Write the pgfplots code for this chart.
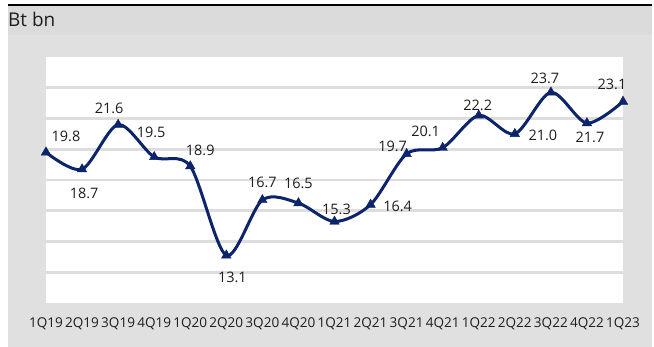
\documentclass[border=0pt]{standalone}
\usepackage{fontspec}
\setmainfont{Open Sans}
\usepackage{pgfplots}
\pgfplotsset{compat=1.18}
\usepackage{pgfplotstable}
\definecolor{navy}{RGB}{12,36,106}
\definecolor{bandgray}{RGB}{219,219,219}
\definecolor{panelgray}{RGB}{224,224,224}
\definecolor{gridgray}{RGB}{221,221,221}
\definecolor{txt}{RGB}{30,30,30}

\pgfplotstableread{
x y lx ly
0 19.8 20 15.5
1 18.7 2 -23.7
2 21.6 -9 16
3 19.5 -3 25
4 18.9 10 16
5 13.1 6 -22
6 16.7 0 17.3
7 16.5 0 20
8 15.3 2 12
9 16.4 27 -2
10 19.7 -14 7
11 20.1 -17 16.5
12 22.2 -1 10
13 21.0 28 -1
14 23.7 -6 14
15 21.7 3 -14
16 23.1 -11 17
}\data

\begin{document}
\begin{tikzpicture}
\useasboundingbox (0bp,0bp) rectangle (654bp,347bp);
\fill[white] (0bp,0bp) rectangle (654bp,347bp);
\fill[panelgray] (8bp,0bp) rectangle (652bp,312bp);
\fill[bandgray] (8bp,312bp) rectangle (652bp,341bp);
\draw[black, line width=2.5bp] (8bp,341.8bp) -- (652bp,341.8bp);
\node[anchor=base west, inner sep=0, text=txt, font=\fontsize{19}{19}\selectfont] at (8bp,320bp) {Bt bn};
\begin{axis}[
  at={(46bp,44bp)}, anchor=south west,
  width=577bp, height=246bp, scale only axis,
  xmin=0, xmax=16, ymin=10, ymax=26,
  axis background/.style={fill=white},
  axis line style={draw=none},
  clip=false,
  /pgf/number format/assume math mode=true,
  ytick={12,14,...,24}, yticklabels={},
  ymajorgrids, major grid style={gridgray, line width=2.8bp},
  xtick={0,...,16},
  xticklabels={1Q19,2Q19,3Q19,4Q19,1Q20,2Q20,3Q20,4Q20,1Q21,2Q21,3Q21,4Q21,1Q22,2Q22,3Q22,4Q22,1Q23},
  major tick length=0pt,
  xticklabel style={anchor=base, yshift=-24bp, font=\fontsize{13.6}{13.6}\selectfont, text=txt, inner sep=0pt},
  nodes near coords={\pgfmathprintnumber[fixed,fixed zerofill,precision=1,assume math mode=true]{\pgfplotspointmeta}},
  visualization depends on={\thisrow{lx}\as\labdx},
  visualization depends on={\thisrow{ly}\as\labdy},
  every node near coord/.append style={anchor=center, inner sep=0pt, xshift=\labdx bp, yshift=\labdy bp, font=\fontsize{14.5}{14.5}\selectfont, text=txt},
]
\addplot[navy, line width=3bp, smooth, tension=0.5, mark=triangle*, mark size=5.5bp, mark options={fill=navy, draw=navy, line width=0.4bp}] table[x=x,y=y] {\data};
\end{axis}
\end{tikzpicture}
\end{document}
